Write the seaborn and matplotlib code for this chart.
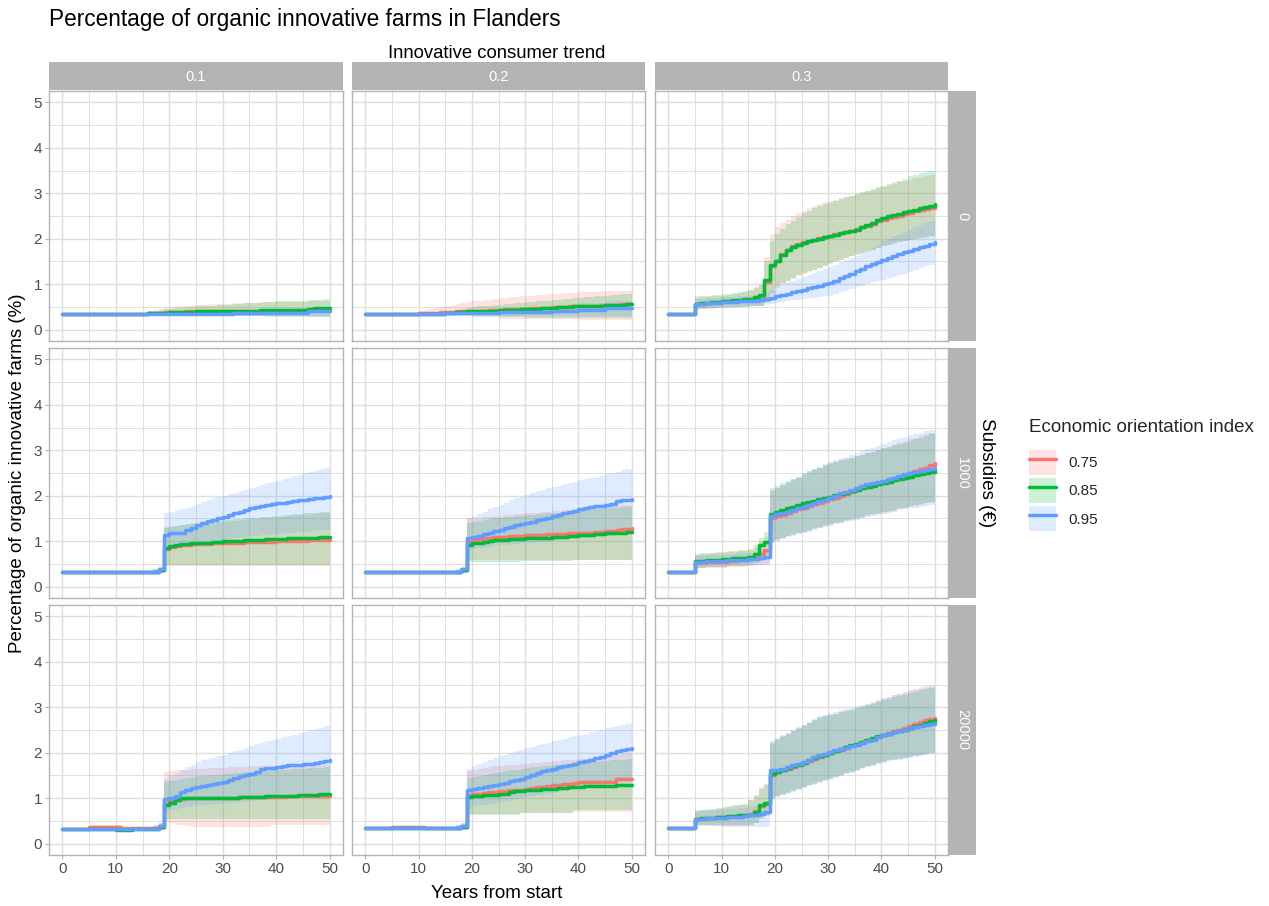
import matplotlib
matplotlib.use("Agg")
import matplotlib.pyplot as plt
from matplotlib.patches import Rectangle, Patch
from matplotlib.lines import Line2D
import seaborn as sns
import pandas as pd

# ---------------- data ----------------
subsidies = [0, 1000, 20000]
subsidy_labels = ["0", "1000", "20000"]
trends = [0.1, 0.2, 0.3]
trend_labels = ["0.1", "0.2", "0.3"]
eco = ["0.75", "0.85", "0.95"]
eco_keys = ["75", "85", "95"]
years = list(range(0, 51))
x_ticks = [0, 10, 20, 30, 40, 50]
y_ticks = [0, 1, 2, 3, 4, 5]

# subsidies 0, trend 0.1
m_0_1_75 = [0.34]*16 + [0.37,0.37,0.37,0.38, 0.39,0.39,0.39,0.40,0.40,0.40,0.40,0.40,0.41,0.41, 0.41,0.41,0.41,0.41,0.42,0.42,0.42,0.42,0.42,0.42, 0.42,0.42,0.42,0.43,0.43,0.43,0.43,0.43,0.44,0.44,0.44]
lo_0_1_75 = [0.34]*16 + [0.33]*4 + [0.32]*10 + [0.31]*10 + [0.30]*11
hi_0_1_75 = [0.34]*16 + [0.42,0.44,0.46,0.48, 0.50,0.51,0.52,0.53,0.54,0.55,0.55,0.56,0.56,0.57, 0.57,0.57,0.58,0.58,0.58,0.59,0.59,0.59,0.60,0.60, 0.60,0.60,0.61,0.61,0.61,0.61,0.62,0.62,0.62,0.62,0.62]
m_0_1_85 = [0.34]*16 + [0.37,0.37,0.37,0.37, 0.39,0.39,0.39,0.39,0.39,0.41,0.41,0.41,0.41,0.41, 0.42,0.42,0.42,0.42,0.42,0.42,0.42,0.43,0.43,0.43, 0.43,0.43,0.43,0.43,0.43,0.43,0.45,0.47,0.47,0.47,0.48]
lo_0_1_85 = [0.34]*16 + [0.34]*4 + [0.33]*10 + [0.31]*8 + [0.27]*13
hi_0_1_85 = [0.34]*16 + [0.40,0.42,0.44,0.45, 0.46,0.47,0.48,0.49,0.50,0.51,0.52,0.52,0.53,0.54, 0.55,0.55,0.56,0.57,0.58,0.58,0.59,0.60,0.60,0.61, 0.62,0.62,0.63,0.63,0.64,0.64,0.65,0.66,0.66,0.67,0.67]
m_0_1_95 = [0.34]*32 + [0.37]*14 + [0.41]*5
lo_0_1_95 = [0.34]*32 + [0.30]*14 + [0.28]*5
hi_0_1_95 = [0.34]*32 + [0.44]*14 + [0.50]*5

# subsidies 0, trend 0.2
m_0_2_75 = [0.34]*10 + [0.37,0.37,0.37,0.37,0.39,0.39,0.39,0.40,0.40,0.40, 0.42,0.42,0.42,0.44,0.44,0.44,0.45,0.45,0.45,0.46, 0.46,0.47,0.47,0.48,0.48,0.49,0.50,0.50,0.51,0.51, 0.52,0.52,0.53,0.53,0.54,0.54,0.55,0.55,0.56,0.56,0.56]
lo_0_2_75 = [0.34]*10 + [0.33]*10 + [0.30]*5 + [0.24]*15 + [0.22]*11
hi_0_2_75 = [0.34]*10 + [0.42,0.44,0.46,0.48,0.50,0.52,0.54,0.56,0.58,0.60, 0.62,0.64,0.65,0.66,0.68,0.69,0.70,0.71,0.72,0.73, 0.74,0.75,0.76,0.77,0.78,0.78,0.79,0.80,0.81,0.81, 0.82,0.82,0.83,0.83,0.84,0.84,0.85,0.85,0.85,0.86,0.86]
m_0_2_85 = [0.34]*15 + [0.36,0.36,0.38,0.38,0.40, 0.40,0.40,0.42,0.42,0.42,0.43,0.43,0.44,0.44,0.45, 0.45,0.46,0.46,0.47,0.47,0.48,0.49,0.50,0.50,0.51, 0.51,0.52,0.52,0.53,0.53,0.54,0.54,0.55,0.55,0.56,0.56]
lo_0_2_85 = [0.34]*15 + [0.31]*5 + [0.28]*10 + [0.26]*10 + [0.25]*11
hi_0_2_85 = [0.34]*15 + [0.40,0.42,0.44,0.46,0.48, 0.50,0.51,0.52,0.53,0.54,0.55,0.56,0.57,0.58,0.59, 0.60,0.61,0.62,0.63,0.64,0.65,0.66,0.67,0.68,0.69, 0.70,0.71,0.72,0.73,0.74,0.75,0.76,0.77,0.78,0.79,0.80]
m_0_2_95 = [0.34]*15 + [0.36]*10 + [0.38]*10 + [0.41]*5 + [0.44]*5 + [0.47]*6
lo_0_2_95 = [0.34]*15 + [0.33]*10 + [0.31]*10 + [0.30]*16
hi_0_2_95 = [0.34]*15 + [0.40]*10 + [0.46]*10 + [0.52]*5 + [0.58]*5 + [0.64]*6

# subsidies 0, trend 0.3
m_0_3_75 = [0.34]*5 + [0.56,0.57,0.58,0.59,0.60] + [0.62,0.63,0.64,0.65,0.66,0.67,0.70,0.74,1.05] + [1.40,1.52,1.66,1.76,1.83,1.88,1.92,1.95,1.98,2.01] + [2.04,2.07,2.10,2.12,2.15,2.18,2.21,2.25,2.29,2.33] + [2.38,2.42,2.45,2.48,2.51,2.54,2.57,2.60,2.63,2.66,2.68,2.70]
lo_0_3_75 = [0.34]*5 + [0.44,0.45,0.46,0.46,0.47] + [0.47,0.48,0.48,0.49,0.49,0.50,0.51,0.52,0.58] + [0.75,0.92,1.00,1.06,1.12,1.18,1.23,1.27,1.31,1.35] + [1.39,1.45,1.49,1.53,1.57,1.61,1.65,1.68,1.71,1.75] + [1.79,1.83,1.86,1.89,1.92,1.95,1.97,1.99,2.01,2.02,2.04,2.05]
hi_0_3_75 = [0.34]*5 + [0.70,0.71,0.72,0.73,0.74] + [0.75,0.76,0.78,0.80,0.83,0.87,0.93,1.00,1.60] + [2.10,2.25,2.35,2.42,2.50,2.56,2.62,2.67,2.72,2.76] + [2.80,2.83,2.86,2.89,2.92,2.95,2.98,3.01,3.05,3.08] + [3.11,3.14,3.18,3.21,3.24,3.27,3.30,3.33,3.36,3.38,3.40,3.42]
m_0_3_85 = [0.34]*5 + [0.57,0.58,0.59,0.60,0.61] + [0.63,0.64,0.65,0.66,0.67,0.68,0.72,0.76,1.10] + [1.43,1.50,1.65,1.75,1.82,1.87,1.91,1.94,1.97,2.00] + [2.03,2.06,2.09,2.12,2.14,2.17,2.20,2.25,2.30,2.35] + [2.41,2.46,2.49,2.52,2.55,2.58,2.60,2.64,2.67,2.70,2.73,2.76]
lo_0_3_85 = [0.34]*5 + [0.45,0.46,0.47,0.47,0.48] + [0.48,0.49,0.49,0.50,0.50,0.51,0.52,0.53,0.60] + [0.80,0.96,1.02,1.08,1.14,1.20,1.25,1.28,1.32,1.36] + [1.40,1.47,1.50,1.54,1.58,1.62,1.66,1.69,1.72,1.76] + [1.80,1.84,1.87,1.90,1.93,1.96,1.98,2.00,2.02,2.03,2.05,2.06]
hi_0_3_85 = [0.34]*5 + [0.73,0.74,0.75,0.76,0.77] + [0.78,0.79,0.80,0.82,0.84,0.88,0.92,0.98,1.50] + [1.95,2.10,2.22,2.32,2.40,2.47,2.57,2.62,2.67,2.72] + [2.76,2.79,2.83,2.87,2.91,2.94,2.98,3.02,3.06,3.10] + [3.13,3.16,3.20,3.24,3.28,3.32,3.38,3.41,3.44,3.46,3.48,3.50]
m_0_3_95 = [0.34]*5 + [0.57,0.57,0.58,0.58,0.59] + [0.60,0.60,0.61,0.62,0.62,0.63,0.64,0.65,0.68] + [0.70,0.73,0.76,0.79,0.82,0.85,0.88,0.91,0.94,0.97] + [1.00,1.03,1.08,1.13,1.18,1.23,1.29,1.34,1.39,1.44] + [1.49,1.54,1.58,1.62,1.66,1.70,1.73,1.77,1.81,1.85,1.89,1.93]
lo_0_3_95 = [0.34]*5 + [0.47,0.47,0.48,0.48,0.48] + [0.49,0.49,0.50,0.50,0.51,0.51,0.52,0.52,0.55] + [0.57,0.59,0.61,0.63,0.65,0.66,0.67,0.69,0.70,0.72] + [0.73,0.74,0.78,0.82,0.86,0.89,0.93,0.96,1.00,1.05] + [1.07,1.10,1.13,1.16,1.20,1.23,1.27,1.31,1.35,1.39,1.43,1.47]
hi_0_3_95 = [0.34]*5 + [0.68,0.68,0.69,0.69,0.70] + [0.71,0.71,0.72,0.73,0.74,0.75,0.76,0.78,0.82] + [0.88,0.96,1.00,1.04,1.08,1.12,1.16,1.20,1.24,1.28] + [1.33,1.38,1.43,1.48,1.53,1.58,1.63,1.68,1.73,1.80] + [1.87,1.95,2.00,2.05,2.10,2.15,2.20,2.25,2.30,2.35,2.39,2.43]

# subsidies 1000, trend 0.1
m_1000_1_75 = [0.33]*18 + [0.36,0.82,0.88,0.90,0.91,0.92,0.93,0.93,0.94,0.94, 0.95,0.95,0.96,0.96,0.97,0.97,0.98,0.98,0.98,0.99, 0.99,0.99,1.00,1.00,1.00,1.01,1.01,1.01,1.02,1.02,1.03,1.03,1.03]
lo_1000_1_75 = [0.33]*17 + [0.31,0.31] + [0.45]*32
hi_1000_1_75 = [0.33]*17 + [0.37,0.40] + [1.32,1.33,1.34,1.35,1.36,1.37,1.38,1.39,1.40,1.41, 1.42,1.43,1.44,1.45,1.46,1.47,1.48,1.49,1.50,1.51, 1.52,1.53,1.54,1.55,1.56,1.57,1.58,1.59,1.60,1.61,1.62,1.63]
m_1000_1_85 = [0.33]*18 + [0.36,0.85,0.90,0.92,0.93,0.94,0.95,0.95,0.96,0.97, 0.98,0.99,1.00,1.00,1.01,1.01,1.02,1.02,1.03,1.03, 1.04,1.04,1.05,1.05,1.06,1.06,1.07,1.07,1.08,1.08,1.09,1.10,1.10]
lo_1000_1_85 = [0.33]*17 + [0.30,0.30] + [0.48]*32
hi_1000_1_85 = [0.33]*17 + [0.38,0.42] + [1.30,1.32,1.34,1.36,1.38,1.40,1.41,1.42,1.43,1.44, 1.45,1.46,1.47,1.48,1.49,1.50,1.51,1.52,1.53,1.54, 1.55,1.56,1.57,1.58,1.59,1.60,1.61,1.62,1.63,1.64,1.65,1.66]
m_1000_1_95 = [0.33]*18 + [0.38,1.14,1.17,1.17,1.19,1.25,1.30,1.36,1.40,1.44, 1.47,1.50,1.54,1.57,1.61,1.65,1.69,1.73,1.75,1.78, 1.80,1.82,1.84,1.85,1.87,1.88,1.90,1.91,1.93,1.95,1.96,1.98,1.99]
lo_1000_1_95 = [0.33]*17 + [0.30,0.30] + [0.80,0.82,0.84,0.86,0.88,0.90,0.92,0.94,0.96,0.98, 1.00,1.02,1.04,1.06,1.08,1.10,1.11,1.12,1.13,1.14, 1.15,1.16,1.17,1.18,1.19,1.20,1.21,1.22,1.23,1.24,1.25,1.26]
hi_1000_1_95 = [0.33]*17 + [0.38,0.45] + [1.62,1.65,1.68,1.71,1.74,1.78,1.82,1.86,1.90,1.94, 1.97,2.00,2.03,2.07,2.10,2.13,2.17,2.20,2.23,2.27, 2.30,2.33,2.37,2.40,2.43,2.46,2.49,2.52,2.55,2.58,2.60,2.62]

# subsidies 1000, trend 0.2
m_1000_2_75 = [0.33]*18 + [0.36,0.99,1.02,1.04,1.06,1.08,1.09,1.10,1.10,1.11, 1.12,1.12,1.13,1.13,1.14,1.14,1.15,1.15,1.16,1.16, 1.17,1.17,1.18,1.18,1.19,1.20,1.21,1.22,1.23,1.24,1.26,1.27,1.29]
lo_1000_2_75 = [0.33]*17 + [0.31,0.31] + [0.58]*32
hi_1000_2_75 = [0.33]*17 + [0.36,0.40] + [1.50,1.51,1.52,1.53,1.54,1.55,1.56,1.57,1.58,1.59, 1.60,1.61,1.62,1.63,1.64,1.65,1.66,1.67,1.68,1.69, 1.70,1.71,1.72,1.73,1.74,1.75,1.76,1.77,1.78,1.79,1.80,1.82]
m_1000_2_85 = [0.33]*18 + [0.36,0.92,0.95,0.97,0.99,1.00,1.02,1.03,1.03,1.04, 1.05,1.05,1.06,1.06,1.07,1.07,1.08,1.09,1.10,1.10, 1.11,1.12,1.13,1.14,1.14,1.15,1.16,1.17,1.18,1.19,1.19,1.20,1.21]
lo_1000_2_85 = [0.33]*17 + [0.31,0.31] + [0.55]*10 + [0.57]*10 + [0.59]*12
hi_1000_2_85 = [0.33]*17 + [0.36,0.40] + [1.40,1.42,1.44,1.46,1.48,1.50,1.52,1.53,1.54,1.55, 1.56,1.57,1.58,1.59,1.60,1.61,1.62,1.63,1.64,1.65, 1.66,1.67,1.68,1.69,1.70,1.71,1.72,1.73,1.74,1.75,1.76,1.78]
m_1000_2_95 = [0.33]*18 + [0.38,1.08,1.10,1.12,1.15,1.18,1.22,1.25,1.29,1.32, 1.35,1.38,1.41,1.43,1.46,1.49,1.52,1.55,1.58,1.61, 1.64,1.67,1.70,1.73,1.75,1.77,1.78,1.80,1.81,1.88,1.90,1.91,1.93]
lo_1000_2_95 = [0.33]*17 + [0.30,0.31] + [0.80,0.82,0.84,0.86,0.88,0.90,0.91,0.92,0.93,0.94, 0.95,0.96,0.97,0.98,0.99,1.00,1.01,1.02,1.03,1.04, 1.05,1.06,1.07,1.08,1.09,1.10,1.11,1.12,1.13,1.14,1.15,1.16]
hi_1000_2_95 = [0.33]*17 + [0.38,0.45] + [1.50,1.55,1.60,1.65,1.70,1.75,1.80,1.85,1.90,1.95, 1.98,2.02,2.06,2.10,2.13,2.16,2.19,2.22,2.25,2.28, 2.31,2.34,2.37,2.39,2.41,2.44,2.47,2.50,2.53,2.56,2.58,2.60]

# subsidies 1000, trend 0.3
m_1000_3_75 = [0.33]*5 + [0.52,0.53,0.54,0.54,0.55] + [0.55,0.56,0.57,0.58,0.59,0.60,0.64,0.72,0.80] + [1.50,1.55,1.58,1.62,1.66,1.70,1.74,1.78,1.82,1.85] + [1.88,1.92,1.96,2.00,2.04,2.08,2.12,2.16,2.20,2.24] + [2.27,2.30,2.34,2.38,2.42,2.46,2.50,2.54,2.58,2.62,2.67,2.72]
lo_1000_3_75 = [0.33]*5 + [0.40,0.40,0.41,0.41,0.42] + [0.42,0.43,0.43,0.44,0.44,0.45,0.46,0.47,0.48] + [0.99,1.03,1.07,1.11,1.14,1.17,1.20,1.23,1.26,1.30] + [1.33,1.36,1.39,1.41,1.44,1.47,1.49,1.52,1.55,1.58] + [1.60,1.62,1.65,1.67,1.70,1.72,1.75,1.77,1.80,1.83,1.85,1.88]
hi_1000_3_75 = [0.33]*5 + [0.70,0.71,0.72,0.73,0.74] + [0.75,0.76,0.77,0.78,0.79,0.80,0.86,0.98,1.10] + [2.10,2.16,2.22,2.28,2.34,2.40,2.46,2.51,2.56,2.61] + [2.66,2.70,2.74,2.78,2.81,2.84,2.87,2.90,2.93,2.96] + [3.00,3.04,3.08,3.12,3.16,3.20,3.24,3.28,3.32,3.35,3.38,3.42]
m_1000_3_85 = [0.33]*5 + [0.57,0.57,0.58,0.58,0.59] + [0.60,0.61,0.62,0.63,0.64,0.66,0.72,0.92,0.99] + [1.60,1.65,1.68,1.72,1.76,1.80,1.83,1.86,1.89,1.92] + [1.95,1.98,2.01,2.04,2.07,2.10,2.13,2.16,2.19,2.22] + [2.25,2.28,2.31,2.34,2.37,2.40,2.42,2.45,2.48,2.50,2.52,2.54]
lo_1000_3_85 = [0.33]*5 + [0.42,0.42,0.43,0.43,0.44] + [0.44,0.45,0.45,0.46,0.47,0.48,0.52,0.62,0.70] + [1.00,1.04,1.08,1.12,1.15,1.18,1.21,1.24,1.28,1.32] + [1.35,1.38,1.41,1.43,1.46,1.49,1.51,1.54,1.57,1.60] + [1.62,1.64,1.67,1.69,1.72,1.74,1.77,1.79,1.82,1.84,1.86,1.88]
hi_1000_3_85 = [0.33]*5 + [0.72,0.73,0.74,0.75,0.76] + [0.77,0.78,0.79,0.80,0.81,0.82,0.92,1.07,1.20] + [2.17,2.22,2.27,2.32,2.37,2.42,2.50,2.54,2.58,2.62] + [2.67,2.72,2.75,2.78,2.81,2.84,2.87,2.90,2.93,2.96] + [3.00,3.05,3.08,3.11,3.14,3.17,3.20,3.24,3.28,3.32,3.35,3.38]
m_1000_3_95 = [0.33]*5 + [0.55,0.55,0.56,0.56,0.57] + [0.57,0.58,0.58,0.59,0.59,0.60,0.61,0.62,0.66] + [1.56,1.60,1.62,1.65,1.68,1.73,1.76,1.80,1.84,1.88] + [1.91,1.96,2.00,2.05,2.09,2.13,2.17,2.21,2.25,2.28] + [2.31,2.32,2.36,2.40,2.44,2.47,2.50,2.53,2.55,2.57,2.59,2.61]
lo_1000_3_95 = [0.33]*5 + [0.42,0.42,0.43,0.43,0.44] + [0.44,0.45,0.45,0.46,0.46,0.47,0.47,0.48,0.50] + [0.97,1.01,1.05,1.09,1.12,1.15,1.18,1.21,1.24,1.28] + [1.31,1.34,1.37,1.39,1.42,1.45,1.47,1.50,1.53,1.56] + [1.58,1.60,1.63,1.65,1.68,1.70,1.72,1.74,1.76,1.78,1.80,1.82]
hi_1000_3_95 = [0.33]*5 + [0.68,0.68,0.69,0.69,0.70] + [0.70,0.71,0.72,0.73,0.74,0.75,0.76,0.78,0.82] + [2.12,2.18,2.24,2.30,2.36,2.42,2.48,2.54,2.59,2.64] + [2.69,2.74,2.78,2.82,2.86,2.90,2.94,2.98,3.02,3.06] + [3.10,3.14,3.18,3.22,3.26,3.30,3.33,3.36,3.39,3.42,3.45,3.48]

# subsidies 20000, trend 0.1
m_20000_1_75 = [0.33]*5 + [0.36]*6 + [0.34]*7 + [0.37,0.88,0.94,0.97,0.99,1.00,1.00,1.00,1.00,1.00, 1.00,1.00,1.01,1.01,1.01,1.02,1.02,1.02,1.02,1.03, 1.03,1.03,1.03,1.03,1.04,1.04,1.04,1.04,1.05,1.05,1.05,1.05,1.05]
lo_20000_1_75 = [0.33]*5 + [0.33]*6 + [0.32]*6 + [0.31,0.31] + [0.48,0.45,0.42,0.40,0.38,0.37,0.37,0.37,0.37,0.37] + [0.37]*10 + [0.40]*12
hi_20000_1_75 = [0.33]*5 + [0.40]*6 + [0.36]*6 + [0.40,0.46] + [1.58,1.60,1.61,1.62,1.63,1.64,1.65,1.65,1.66,1.66, 1.67,1.67,1.68,1.68,1.69,1.69,1.70,1.70,1.70,1.71, 1.71,1.71,1.72,1.72,1.72,1.72,1.73,1.73,1.73,1.73,1.73,1.73]
m_20000_1_85 = [0.33]*10 + [0.31,0.31,0.31] + [0.33]*5 + [0.36,0.85,0.90,0.95,1.00,1.00,1.00,1.00,1.00,1.00, 1.00,1.00,1.00,1.01,1.01,1.02,1.02,1.03,1.03,1.03, 1.04,1.04,1.04,1.05,1.05,1.05,1.06,1.06,1.07,1.08,1.09,1.10,1.10]
lo_20000_1_85 = [0.33]*10 + [0.30]*3 + [0.32]*4 + [0.30,0.30] + [0.55]*32
hi_20000_1_85 = [0.33]*10 + [0.33]*3 + [0.34]*4 + [0.38,0.44] + [1.35,1.38,1.40,1.42,1.44,1.46,1.48,1.49,1.50,1.51, 1.52,1.53,1.54,1.55,1.56,1.57,1.58,1.59,1.60,1.60, 1.61,1.62,1.62,1.63,1.64,1.64,1.65,1.66,1.67,1.67,1.68,1.69]
m_20000_1_95 = [0.33]*18 + [0.38,0.99,1.00,1.05,1.14,1.18,1.22,1.25,1.27,1.29, 1.31,1.33,1.36,1.40,1.44,1.48,1.51,1.54,1.58,1.65, 1.66,1.67,1.69,1.70,1.72,1.73,1.74,1.75,1.76,1.78,1.80,1.82,1.84]
lo_20000_1_95 = [0.33]*17 + [0.30,0.30] + [0.72,0.74,0.76,0.78,0.80,0.82,0.84,0.85,0.86,0.87, 0.88,0.89,0.90,0.91,0.92,0.93,0.94,0.95,0.96,0.97, 0.98,0.99,1.00,1.01,1.02,1.03,1.04,1.05,1.06,1.07,1.08,1.10]
hi_20000_1_95 = [0.33]*17 + [0.38,0.46] + [1.43,1.50,1.56,1.62,1.68,1.74,1.80,1.83,1.86,1.89, 1.92,1.95,1.99,2.03,2.07,2.11,2.15,2.19,2.22,2.25, 2.28,2.31,2.34,2.37,2.40,2.43,2.46,2.49,2.52,2.55,2.58,2.60]

# subsidies 20000, trend 0.2
m_20000_2_75 = [0.34]*5 + [0.36]*6 + [0.35]*7 + [0.37,1.07,1.09,1.10,1.12,1.13,1.14,1.15,1.16,1.17, 1.18,1.19,1.21,1.22,1.24,1.25,1.27,1.29,1.30,1.31, 1.32,1.33,1.36,1.36,1.36,1.36,1.36,1.36,1.36,1.42,1.42,1.42,1.42]
lo_20000_2_75 = [0.34]*5 + [0.34]*6 + [0.33]*6 + [0.31,0.31] + [0.65]*10 + [0.68]*10 + [0.70]*12
hi_20000_2_75 = [0.34]*5 + [0.38]*6 + [0.37]*6 + [0.40,0.46] + [1.60,1.62,1.64,1.66,1.68,1.70,1.71,1.72,1.73,1.74, 1.75,1.76,1.77,1.78,1.79,1.80,1.81,1.82,1.83,1.84, 1.85,1.86,1.87,1.88,1.89,1.90,1.91,1.93,1.95,1.97,2.00,2.02]
m_20000_2_85 = [0.34]*18 + [0.36,1.03,1.04,1.05,1.06,1.07,1.08,1.09,1.10,1.14, 1.15,1.16,1.17,1.18,1.19,1.20,1.20,1.21,1.22,1.23, 1.24,1.25,1.25,1.26,1.26,1.27,1.27,1.27,1.27,1.30,1.30,1.30,1.30]
lo_20000_2_85 = [0.34]*17 + [0.32,0.32] + [0.62]*10 + [0.68]*10 + [0.74]*12
hi_20000_2_85 = [0.34]*17 + [0.38,0.44] + [1.45,1.47,1.49,1.51,1.53,1.55,1.57,1.59,1.61,1.63, 1.65,1.67,1.68,1.69,1.70,1.71,1.72,1.73,1.74,1.75, 1.76,1.77,1.78,1.79,1.80,1.81,1.82,1.83,1.84,1.85,1.86,1.88]
m_20000_2_95 = [0.34]*5 + [0.35]*13 + [0.38,1.18,1.20,1.22,1.25,1.27,1.30,1.32,1.34,1.37, 1.40,1.43,1.47,1.51,1.55,1.59,1.62,1.65,1.68,1.71, 1.73,1.76,1.79,1.82,1.85,1.88,1.91,1.95,1.99,2.03,2.06,2.08,2.10]
lo_20000_2_95 = [0.34]*5 + [0.33]*12 + [0.31,0.31] + [0.80,0.82,0.84,0.86,0.88,0.90,0.92,0.94,0.96,0.98, 1.00,1.02,1.04,1.06,1.08,1.10,1.12,1.14,1.16,1.18, 1.20,1.22,1.24,1.26,1.28,1.30,1.32,1.34,1.36,1.38,1.40,1.42]
hi_20000_2_95 = [0.34]*5 + [0.37]*12 + [0.40,0.46] + [1.65,1.70,1.75,1.80,1.84,1.88,1.92,1.96,2.00,2.04, 2.07,2.10,2.13,2.16,2.19,2.22,2.25,2.28,2.31,2.34, 2.36,2.39,2.42,2.45,2.48,2.51,2.54,2.57,2.59,2.61,2.63,2.65]

# subsidies 20000, trend 0.3
m_20000_3_75 = [0.35]*5 + [0.54,0.55,0.56,0.57,0.58] + [0.59,0.60,0.61,0.62,0.63,0.65,0.72,0.82,0.88] + [1.52,1.57,1.61,1.65,1.69,1.73,1.77,1.82,1.87,1.91] + [1.95,1.99,2.03,2.07,2.11,2.15,2.19,2.23,2.27,2.31] + [2.35,2.39,2.43,2.47,2.51,2.55,2.59,2.63,2.67,2.71,2.74,2.77]
lo_20000_3_75 = [0.35]*5 + [0.40,0.40,0.40,0.39,0.39] + [0.39,0.38,0.38,0.38,0.38,0.40,0.45,0.55,0.60] + [1.00,1.05,1.09,1.13,1.17,1.21,1.25,1.29,1.33,1.37] + [1.41,1.44,1.48,1.52,1.56,1.59,1.63,1.67,1.71,1.74] + [1.78,1.81,1.84,1.86,1.88,1.90,1.92,1.94,1.96,1.98,2.01,2.03]
hi_20000_3_75 = [0.35]*5 + [0.72,0.73,0.74,0.75,0.76] + [0.78,0.80,0.82,0.84,0.86,0.96,1.08,1.24,1.32] + [2.20,2.27,2.34,2.41,2.47,2.53,2.59,2.65,2.71,2.77] + [2.80,2.83,2.86,2.89,2.92,2.95,2.98,3.01,3.05,3.09] + [3.13,3.18,3.22,3.26,3.30,3.34,3.38,3.41,3.44,3.47,3.50,3.52]
m_20000_3_85 = [0.35]*5 + [0.55,0.56,0.56,0.57,0.58] + [0.59,0.60,0.61,0.62,0.63,0.64,0.70,0.85,0.90] + [1.54,1.58,1.62,1.66,1.70,1.74,1.78,1.83,1.88,1.92] + [1.96,2.00,2.04,2.08,2.12,2.16,2.20,2.24,2.28,2.32] + [2.36,2.39,2.42,2.45,2.48,2.51,2.55,2.58,2.62,2.65,2.69,2.72]
lo_20000_3_85 = [0.35]*5 + [0.41,0.41,0.41,0.40,0.40] + [0.40,0.40,0.40,0.40,0.40,0.42,0.46,0.56,0.62] + [0.99,1.04,1.08,1.12,1.16,1.20,1.24,1.28,1.32,1.36] + [1.40,1.43,1.47,1.51,1.55,1.58,1.62,1.66,1.70,1.73] + [1.77,1.80,1.83,1.85,1.87,1.89,1.91,1.93,1.95,1.97,2.00,2.02]
hi_20000_3_85 = [0.35]*5 + [0.74,0.75,0.76,0.77,0.78] + [0.80,0.82,0.84,0.86,0.88,0.96,1.05,1.21,1.30] + [2.24,2.30,2.36,2.42,2.48,2.54,2.60,2.66,2.72,2.78] + [2.81,2.83,2.86,2.89,2.92,2.95,2.98,3.01,3.04,3.08] + [3.12,3.16,3.19,3.22,3.25,3.28,3.31,3.34,3.37,3.40,3.43,3.45]
m_20000_3_95 = [0.35]*5 + [0.55,0.55,0.56,0.56,0.57] + [0.57,0.58,0.58,0.59,0.60,0.62,0.64,0.66,0.70] + [1.62,1.62,1.65,1.69,1.73,1.76,1.80,1.85,1.90,1.94] + [1.98,2.02,2.05,2.08,2.11,2.14,2.17,2.21,2.25,2.29] + [2.34,2.39,2.42,2.45,2.48,2.51,2.54,2.56,2.58,2.60,2.63,2.65]
lo_20000_3_95 = [0.35]*5 + [0.39,0.39,0.38,0.38,0.38] + [0.37,0.37,0.37,0.37,0.37,0.37,0.37,0.37,0.37] + [0.98,1.02,1.06,1.10,1.14,1.18,1.22,1.26,1.30,1.34] + [1.38,1.41,1.45,1.49,1.53,1.56,1.60,1.64,1.68,1.71] + [1.75,1.78,1.81,1.83,1.85,1.87,1.89,1.91,1.93,1.95,1.98,2.00]
hi_20000_3_95 = [0.35]*5 + [0.70,0.71,0.72,0.73,0.74] + [0.75,0.76,0.77,0.78,0.79,0.80,0.82,0.84,0.88] + [2.26,2.32,2.38,2.44,2.50,2.56,2.62,2.68,2.74,2.80] + [2.84,2.87,2.90,2.93,2.96,2.99,3.02,3.05,3.08,3.12] + [3.16,3.20,3.23,3.26,3.29,3.32,3.35,3.38,3.41,3.43,3.45,3.47]

colors = ["#F8766D", "#00BA38", "#619CFF"]

# ---------------- assemble long table ----------------
rows_ = []
g = globals()
for s in subsidies:
    for ti, t in enumerate(trends):
        for e, ek in zip(eco, eco_keys):
            mm = g[f"m_{s}_{ti+1}_{ek}"]
            lo = g[f"lo_{s}_{ti+1}_{ek}"]
            hi = g[f"hi_{s}_{ti+1}_{ek}"]
            assert len(mm) == len(lo) == len(hi) == len(years), (s, t, e, len(mm), len(lo), len(hi))
            for yv, a, b, c in zip(years, mm, lo, hi):
                rows_.append((s, t, e, yv, a, b, c))
df = pd.DataFrame(rows_, columns=["subsidies", "trend", "eco", "year", "mean", "lo", "hi"])

# ---------------- figure ----------------
sns.set_theme(style="white")
plt.rcParams["font.family"] = ["Liberation Sans", "DejaVu Sans"]

W, H = 1269, 906
fig = plt.figure(figsize=(W / 100, H / 100), dpi=100)

def fbox(x0, y0, x1, y1):
    return [x0 / W, 1 - y1 / H, (x1 - x0) / W, (y1 - y0) / H]

col_px = [(49, 343), (352, 645), (655, 948)]
row_px = [(91, 341), (348, 598), (605, 855)]
strip_col = "#b3b3b3"
grid_col = "#dedede"
text_col = "#4d4d4d"
LW = 2.5

for i, s in enumerate(subsidies):
    for j, t in enumerate(trends):
        x0, x1 = col_px[j]
        y0, y1 = row_px[i]
        ax = fig.add_axes(fbox(x0, y0, x1, y1))
        sub = df[(df.subsidies == s) & (df.trend == t)]
        for e, c in zip(eco, colors):
            d = sub[sub.eco == e]
            ax.fill_between(d["year"], d["lo"], d["hi"], step="post",
                            color=c, alpha=0.2, lw=0, zorder=1)
        sns.lineplot(data=sub, x="year", y="mean", hue="eco", hue_order=eco,
                     palette=colors, drawstyle="steps-post", linewidth=LW,
                     errorbar=None, legend=False, ax=ax, zorder=3)
        ax.set_xlim(-2.5, 52.5)
        ax.set_ylim(-0.25, 5.25)
        ax.set_xticks(x_ticks)
        ax.set_yticks(y_ticks)
        ax.set_xticks([5, 15, 25, 35, 45], minor=True)
        ax.set_yticks([0.5, 1.5, 2.5, 3.5, 4.5], minor=True)
        ax.grid(which="major", color=grid_col, lw=1.0)
        ax.grid(which="minor", color=grid_col, lw=0.7)
        ax.set_axisbelow(True)
        ax.set_xlabel("")
        ax.set_ylabel("")
        for sp in ax.spines.values():
            sp.set_color(strip_col)
            sp.set_linewidth(1.0)
        ax.tick_params(which="major", length=3, color=strip_col, width=0.8,
                       labelsize=11, labelcolor=text_col, pad=2,
                       left=(j == 0), bottom=(i == 2),
                       labelleft=(j == 0), labelbottom=(i == 2))
        ax.tick_params(which="minor", length=0)
        # top strip
        if i == 0:
            fig.add_artist(Rectangle((x0 / W, 1 - 90 / H), (x1 - x0) / W, 28 / H,
                                     transform=fig.transFigure, facecolor=strip_col,
                                     edgecolor="none"))
            fig.text((x0 + x1) / 2 / W, 1 - 77 / H, trend_labels[j], color="white",
                     ha="center", va="center", fontsize=10.5)
        # right strip
        if j == 2:
            fig.add_artist(Rectangle((948 / W, 1 - y1 / H), 28 / W, (y1 - y0) / H,
                                     transform=fig.transFigure, facecolor=strip_col,
                                     edgecolor="none"))
            fig.text(962 / W, 1 - (y0 + y1) / 2 / H, subsidy_labels[i], color="white",
                     ha="center", va="center", fontsize=10.5, rotation=-90)

# titles and labels
fig.text(49 / W, 1 - 26 / H, "Percentage of organic innovative farms in Flanders",
         ha="left", va="baseline", fontsize=16.3, color="black")
fig.text(497 / W, 1 - 58 / H, "Innovative consumer trend", ha="center", va="baseline",
         fontsize=13.3, color="black")
fig.text(497 / W, 1 - 898 / H, "Years from start", ha="center", va="baseline",
         fontsize=13.5, color="black")
fig.text(18 / W, 1 - 473 / H, "Percentage of organic innovative farms (%)",
         ha="center", va="center", rotation=90, fontsize=13.5, color="black")
fig.text(986 / W, 1 - 473 / H, "Subsidies (€)", ha="center", va="center",
         rotation=-90, fontsize=13.5, color="black")

# legend
handles = [(Patch(facecolor=c, alpha=0.2, edgecolor="none"),
            Line2D([], [], color=c, lw=LW)) for c in colors]
leg = fig.legend(handles, eco, loc="upper left",
                 bbox_to_anchor=(1029 / W, 1 - 419 / H), frameon=False,
                 title="Economic orientation index", title_fontsize=13.5,
                 fontsize=11, handlelength=1.77, handleheight=2.15,
                 labelspacing=0.2, handletextpad=0.78, borderaxespad=0,
                 borderpad=0)
leg._legend_box.align = "left"
leg._legend_box.sep = 10

fig.savefig("out.png", dpi=100)
